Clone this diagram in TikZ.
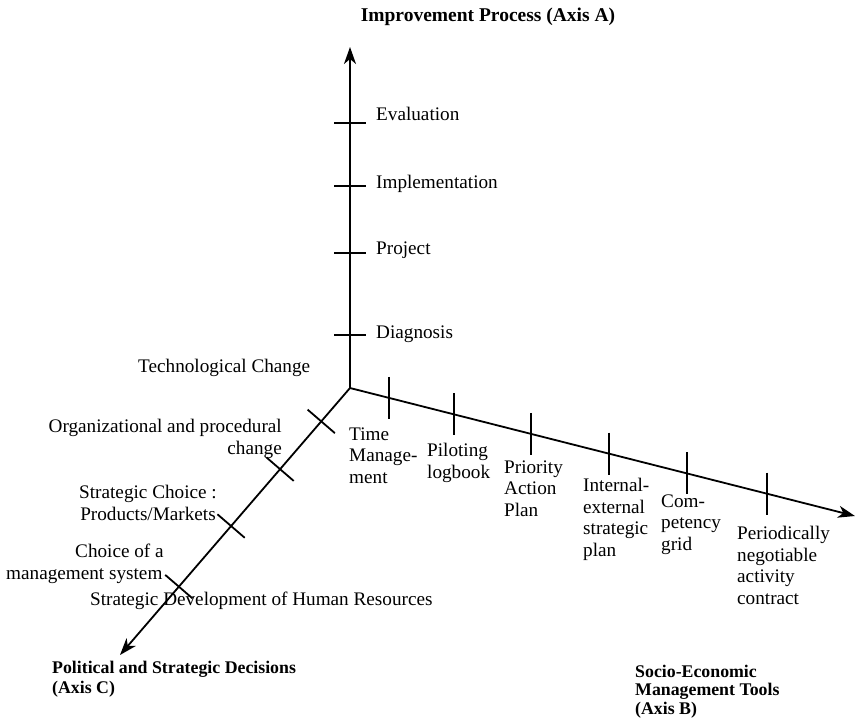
\documentclass[tikz,border=0pt]{standalone}
\usepackage{fontspec}
\setmainfont{Liberation Serif}
\usetikzlibrary{arrows.meta,calc}
\begin{document}
\begin{tikzpicture}[x=1pt,y=-1pt,
  axis/.style={line width=1.8pt,-{Stealth[length=17pt,width=12pt,inset=5pt]}},
  tick/.style={line width=1.8pt},
  lbl/.style={inner sep=0pt,font=\fontsize{19.2}{21.5}\selectfont,align=left},
  ttl/.style={inner sep=0pt,font=\fontsize{17.8}{20}\selectfont\bfseries,align=left}]
\useasboundingbox (0,0) rectangle (857,724);
\coordinate (O) at (350,388);
\coordinate (A) at (350,47);
\coordinate (B) at (855,516);
\coordinate (C) at (120,655);
\draw[axis] (O) -- (A);
\draw[axis] (O) -- (B);
\draw[axis] (O) -- (C);
% ticks on axis A
\foreach \y/\n in {123/a1,186/a2,253/a3,335/a4}{
  \coordinate (\n) at (350,\y);
  \draw[tick] ($(\n)+(-16,0)$) -- ($(\n)+(16,0)$);
}
% ticks on axis B
\foreach \x/\n in {389/b1,454/b2,531/b3,609/b4,687/b5,767/b6}{
  \coordinate (\n) at ($(O)!{(\x-350)/505}!(B)$);
  \draw[tick] ($(\n)+(0,-21)$) -- ($(\n)+(0,21)$);
}
% ticks on axis C
\foreach \f/\n in {0.125/c1,0.304/c2,0.517/c3,0.744/c4}{
  \coordinate (\n) at ($(O)!\f!(C)$);
  \draw[tick] ($(\n)!18pt!90:(O)$) -- ($(\n)!18pt!-90:(O)$);
}
% titles
\node[ttl,anchor=base,font=\fontsize{19.5}{22}\selectfont\bfseries] (tA) at (488,21) {Improvement Process (Axis A)};
\node[ttl,anchor=base west] (tC) at (52,693) {Political and Strategic Decisions\\(Axis C)};
\node[ttl,anchor=base west,font=\fontsize{17.8}{18.5}\selectfont\bfseries] (tB) at (635,714) {Socio-Economic\\Management Tools\\(Axis B)};
% axis A labels
\node[lbl,anchor=base west] (la1) at (376,120) {Evaluation};
\node[lbl,anchor=base west] (la2) at (376,188) {Implementation};
\node[lbl,anchor=base west] (la3) at (376,254) {Project};
\node[lbl,anchor=base west] (la4) at (376,338) {Diagnosis};
% axis B labels (base = last line)
\node[lbl,anchor=base west] (lb1) at (349,483) {Time\\Manage-\\ment};
\node[lbl,anchor=base west] (lb2) at (427,478) {Piloting\\logbook};
\node[lbl,anchor=base west] (lb3) at (504,516) {Priority\\Action\\Plan};
\node[lbl,anchor=base west] (lb4) at (583,556) {Internal-\\external\\strategic\\plan};
\node[lbl,anchor=base west] (lb5) at (661,550) {Com-\\petency\\grid};
\node[lbl,anchor=base west] (lb6) at (737,604) {Periodically\\negotiable\\activity\\contract};
% axis C labels
\node[lbl,anchor=base west] (lc0) at (138,372) {Technological Change};
\node[lbl,anchor=base east,align=right] (lc1) at (282,454) {Organizational and procedural\\change};
\node[lbl,anchor=base,align=center] (lc2) at (148,520) {Strategic Choice :\\Products/Markets};
\node[lbl,anchor=base west] (lc3) at (6,579) {\hspace*{69pt}Choice of a\\management system};
\node[lbl,anchor=base west] (lc4) at (90,605) {Strategic Development of Human Resources};
\end{tikzpicture}
\end{document}
